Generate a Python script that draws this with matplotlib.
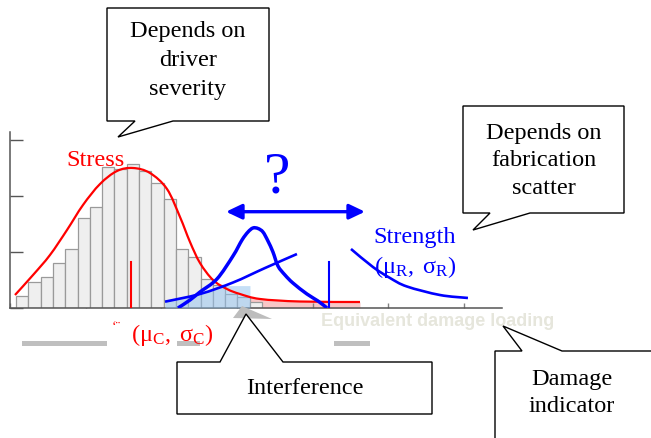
import numpy as np
import matplotlib
matplotlib.use("Agg")
import matplotlib.pyplot as plt
from matplotlib.patches import Polygon, Rectangle, FancyArrowPatch, PathPatch
from matplotlib.path import Path

plt.rcParams['font.family'] = ['Liberation Serif', 'DejaVu Serif']
plt.rcParams['mathtext.fontset'] = 'custom'
plt.rcParams['mathtext.rm'] = 'Liberation Serif'
plt.rcParams['mathtext.it'] = 'Liberation Serif:italic'
plt.rcParams['mathtext.bf'] = 'Liberation Serif:bold'

# ---------------- data (axis units) ----------------
x_ticks = [0, 1, 2, 3, 4, 5, 6]
y_ticks = [0, 1, 2, 3]
bin_start = 0.08
bin_width = 0.1625
stress_counts = [0.22, 0.46, 0.55, 0.80, 1.05, 1.61, 1.80, 2.52, 2.48, 2.57,
                 2.45, 2.23, 1.95, 1.05, 0.91, 0.52, 0.41, 0.25, 0.20, 0.11]

stress_curve_x = [0.066, 0.304, 0.528, 0.753, 0.964, 1.189, 1.413, 1.625, 1.849,
                  2.074, 2.246, 2.378, 2.510, 2.682, 2.867, 3.038, 3.303, 3.831, 4.624]
stress_curve_y = [0.232, 0.589, 0.946, 1.393, 1.839, 2.214, 2.446, 2.500, 2.411,
                  2.125, 1.625, 1.179, 0.804, 0.500, 0.339, 0.250, 0.161, 0.116, 0.107]

peak_x = [2.219, 2.378, 2.510, 2.734, 2.946, 3.065, 3.144, 3.210, 3.276, 3.342,
          3.408, 3.474, 3.540, 3.633, 3.738, 3.923, 4.069, 4.188]
peak_y = [0.000, 0.143, 0.286, 0.518, 0.929, 1.214, 1.357, 1.429, 1.420, 1.357,
          1.196, 1.000, 0.750, 0.589, 0.446, 0.250, 0.125, 0.000]

strength_left_x = [2.048, 2.510, 2.946, 3.369, 3.791]
strength_left_y = [0.113, 0.250, 0.455, 0.714, 0.964]
strength_right_x = [4.505, 4.795, 5.020, 5.244, 5.680, 6.050]
strength_right_y = [1.054, 0.732, 0.536, 0.384, 0.232, 0.179]

stress_mean = 1.598
strength_mean = 4.218
mean_marker_height = 0.82
interference_range = (2.048, 3.170)
interference_cap = 0.40
tail_range = (3.170, 4.624)

RED = '#ff0000'
BLUE = '#0000ff'

fig = plt.figure(figsize=(6.51, 4.39), dpi=100)
W, H = 651, 439


def smooth_path(xs, ys):
    """Catmull-Rom style cubic Bezier path through the given points."""
    P = np.column_stack([xs, ys]).astype(float)
    n = len(P)
    verts = [P[0]]
    codes = [Path.MOVETO]
    for i in range(n - 1):
        p0 = P[i - 1] if i > 0 else P[i]
        p1, p2 = P[i], P[i + 1]
        p3 = P[i + 2] if i + 2 < n else P[i + 1]
        verts += [p1 + (p2 - p0) / 6.0, p2 - (p3 - p1) / 6.0, p2]
        codes += [Path.CURVE4] * 3
    return Path(verts, codes)


# ---------------- chart axes ----------------
ax = fig.add_axes([10 / W, 130 / H, 492 / W, 176 / H])
ax.set_xlim(0, 6.5)
ax.set_ylim(0, 176 / 56)
ax.patch.set_alpha(0)
for s in ['top', 'right']:
    ax.spines[s].set_visible(False)
for s in ['left', 'bottom']:
    ax.spines[s].set_color('#555555')
    ax.spines[s].set_linewidth(1.1)
ax.set_xticks(x_ticks)
ax.set_yticks(y_ticks)
ax.tick_params(axis='x', direction='in', length=3.6, width=1.0, color='#808080',
               labelbottom=False)
ax.tick_params(axis='y', direction='in', length=9.4, width=1.0, color='#555555',
               labelleft=False)

# pink tail of stress
tx = [tail_range[0]] + [x for x in stress_curve_x if tail_range[0] < x <= tail_range[1]]
ty = list(np.interp(tx, stress_curve_x, stress_curve_y))
ax.fill_between(tx, 0, ty, color='#f8c6c6', lw=0, zorder=1)

# histogram
edges = bin_start + bin_width * np.arange(len(stress_counts))
ax.bar(edges, stress_counts, width=bin_width, align='edge', color='#efefef',
       edgecolor='#9a9a9a', linewidth=0.9, zorder=2)

# interference region
ix = np.linspace(interference_range[0], interference_range[1], 60)
iy = np.minimum(np.interp(ix, strength_left_x, strength_left_y), interference_cap)
ax.fill_between(ix, 0, iy, color='#8fc0ee', alpha=0.5, lw=0, zorder=3)

# curves
def curve(xs, ys, color, lw, z):
    ax.add_patch(PathPatch(smooth_path(xs, ys), fc='none', ec=color, lw=lw,
                           zorder=z, capstyle='butt', joinstyle='round'))

curve(stress_curve_x, stress_curve_y, RED, 1.6, 4)
curve(strength_left_x, strength_left_y, BLUE, 1.9, 5)
curve(strength_right_x, strength_right_y, BLUE, 1.9, 5)
curve(peak_x, peak_y, BLUE, 2.5, 6)
ax.plot([stress_mean, stress_mean], [0, mean_marker_height], color=RED, lw=1.5, zorder=5)
ax.plot([strength_mean, strength_mean], [0, mean_marker_height], color=BLUE, lw=1.5, zorder=6)

# ---------------- overlay (annotations) ----------------
ov = fig.add_axes([0, 0, 1, 1])
ov.set_xlim(0, W)
ov.set_ylim(H, 0)
ov.axis('off')
ov.patch.set_alpha(0)
ov.set_zorder(3)


def callout(pts):
    ov.add_patch(Polygon(pts, closed=True, fc='white', ec='black', lw=1.0,
                         joinstyle='miter', zorder=3))


# gray remnants
for (x0, w) in [(22, 85), (177, 23), (334, 36)]:
    ov.add_patch(Rectangle((x0, 341.7), w, 5.6, fc='#bfbfbf', ec='none', zorder=1))
ov.add_patch(Polygon([(233, 319), (242, 307), (272, 320)], closed=True,
                     fc='#bdbdbd', ec='none', zorder=2))

t = ov.text(321, 326.5, 'Equivalent damage loading', family='Liberation Sans',
            fontweight='bold', fontsize=13, color='#e6e6dc', va='baseline', zorder=1)
t.set_clip_path(Rectangle((315, 317), 250, 11, transform=ov.transData))

# callouts
callout([(107, 9), (269, 9), (269, 122), (173, 122), (118, 138), (135, 122), (107, 122)])
callout([(463, 107), (624, 107), (624, 214), (530, 214), (473, 231), (490, 214), (463, 214)])
callout([(177, 363), (220, 363), (246, 315), (283, 363), (432, 363), (432, 415), (177, 415)])
callout([(495, 352), (522, 352), (503, 327), (562, 352), (665, 352), (665, 450), (495, 450)])

fs = 17.5
for txt, yb in [('Depends on', 37), ('driver', 66), ('severity', 95)]:
    ov.text(188, yb, txt, fontsize=fs, ha='center', va='baseline', zorder=4)
for txt, yb in [('Depends on', 139), ('fabrication', 166.5), ('scatter', 194)]:
    ov.text(543.5, yb, txt, fontsize=fs, ha='center', va='baseline', zorder=4)
ov.text(304.5, 394, 'Interference', fontsize=fs, ha='center', va='baseline', zorder=4)
for txt, yb in [('Damage', 385), ('indicator', 412)]:
    ov.text(572, yb, txt, fontsize=fs, ha='center', va='baseline', zorder=4)

# coloured labels
ov.text(96, 166.5, 'Stress', fontsize=fs, color=RED, ha='center', va='baseline', zorder=4)
ov.text(172.5, 341, r'$(\mathrm{μ}_\mathrm{C},\ \mathrm{σ}_\mathrm{C})$', fontsize=fs,
        color=RED, ha='center', va='baseline', zorder=4)
ov.text(112, 331, '‘¨', fontsize=10, color=RED, ha='left', va='baseline', zorder=4)
ov.text(415, 243.3, 'Strength', fontsize=fs, color=BLUE, ha='center', va='baseline', zorder=4)
ov.text(415.5, 273, r'$(\mathrm{μ}_\mathrm{R},\ \mathrm{σ}_\mathrm{R})$', fontsize=fs,
        color=BLUE, ha='center', va='baseline', zorder=4)
ov.text(277.5, 193, '?', fontsize=43, color=BLUE, ha='center', va='baseline', zorder=4)

ov.add_patch(FancyArrowPatch((226, 212.7), (365, 212.7),
                             arrowstyle='<|-|>,head_length=0.63,head_width=0.3',
                             mutation_scale=15, color=BLUE, lw=2.4,
                             shrinkA=0, shrinkB=0, zorder=4))

fig.savefig('out.png', dpi=100)
